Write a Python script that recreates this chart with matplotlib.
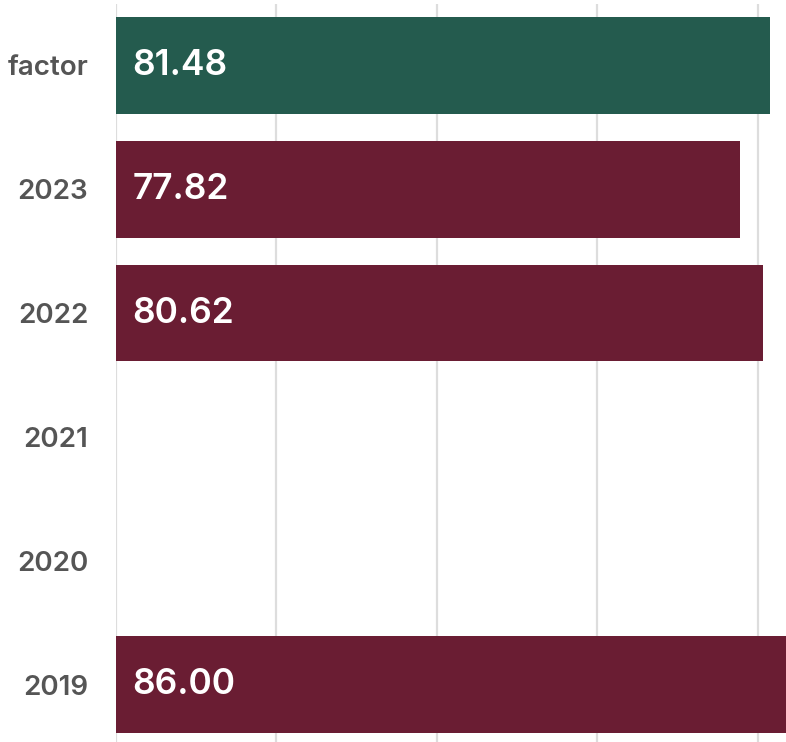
import numpy as np
import matplotlib
matplotlib.use("Agg")
import matplotlib.pyplot as plt

# scores per year, plus the overall factor bar on top
categories = ["factor", "2023", "2022", "2021", "2020", "2019"]
scores = [81.48, 77.82, 80.62, np.nan, np.nan, 86.00]
value_labels = ["81.48", "77.82", "80.62", "", "", "86.00"]
grid_ticks = [0, 20, 40, 60, 80]

green = "#245b4e"
maroon = "#6a1d33"
bar_colors = [green, maroon, maroon, maroon, maroon, maroon]

plt.rcParams['font.family'] = ['Inter', 'DejaVu Sans']

fig = plt.figure(figsize=(7.86, 7.42), dpi=100)
ax = fig.add_axes([116 / 786, -0.00606, 1 - 116 / 786, 1.0013])

ypos = np.arange(len(categories))
vals = np.nan_to_num(np.array(scores, dtype=float))
bars = ax.barh(ypos, vals, height=0.78, color=bar_colors, zorder=2)

for bar, lab in zip(bars, value_labels):
    if not lab:
        continue
    ax.annotate(lab, xy=(0, bar.get_y() + bar.get_height() / 2),
                xytext=(12, 0), textcoords="offset points",
                ha="left", va="center", color="white",
                fontsize=25.5, fontweight="semibold", zorder=3)

ax.set_xlim(0, 83.49)
ax.set_ylim(5.5, -0.5)
ax.set_xticks(grid_ticks)
ax.set_xticklabels([])
ax.set_yticks(ypos)
ax.set_yticklabels(categories, fontsize=20, fontweight="semibold", color="#555555")
ax.tick_params(axis="both", length=0)
ax.tick_params(axis="y", pad=20)
ax.grid(axis="x", color="#dddddd", linewidth=1.6)
ax.set_axisbelow(True)
for s in ax.spines.values():
    s.set_visible(False)

fig.savefig("out.png", dpi=100)
